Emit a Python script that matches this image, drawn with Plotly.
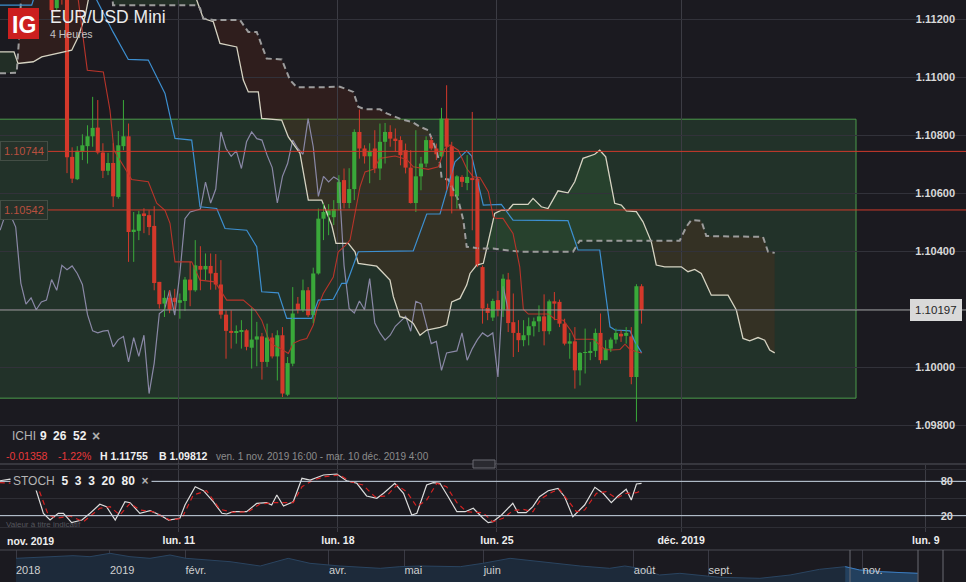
import numpy as np
import plotly.graph_objects as go

# ---- data (x = 4h bar index, 0 = first bar of the big drop) ----
bar_idx = list(range(-13, 113))
opens = [1.11540, 1.11560, 1.11700, 1.11650, 1.11580, 1.11500, 1.11470, 1.11400, 1.11420, 1.11350,
         1.11330, 1.11238, 1.11310, 1.11280, 1.10725, 1.10648, 1.10742, 1.10762, 1.10796, 1.10826,
         1.10740, 1.10677, 1.10704, 1.10587, 1.10762, 1.10796, 1.10466, 1.10470, 1.10530, 1.10524,
         1.10487, 1.10294, 1.10219, 1.10239, 1.10239, 1.10222, 1.10228, 1.10302, 1.10265, 1.10349,
         1.10337, 1.10349, 1.10325, 1.10285, 1.10181, 1.10125, 1.10118, 1.10122, 1.10127, 1.10067,
         1.10095, 1.10106, 1.10018, 1.10102, 1.10037, 1.10110, 1.09905, 1.10012, 1.10219, 1.10198,
         1.10265, 1.10179, 1.10323, 1.10512, 1.10524, 1.10517, 1.10566, 1.10645, 1.10566, 1.10614,
         1.10811, 1.10754, 1.10727, 1.10754, 1.10685, 1.10777, 1.10811, 1.10788, 1.10783, 1.10748,
         1.10688, 1.10566, 1.10658, 1.10702, 1.10783, 1.10754, 1.10727, 1.10857, 1.10762, 1.10589,
         1.10656, 1.10635, 1.10652, 1.10650, 1.10345, 1.10204, 1.10171, 1.10231, 1.10198, 1.10302,
         1.10155, 1.10118, 1.10093, 1.10110, 1.10141, 1.10158, 1.10175, 1.10124, 1.10227, 1.10225,
         1.10150, 1.10081, 1.10089, 1.09989, 1.10049, 1.10052, 1.10056, 1.10118, 1.10024, 1.10064,
         1.10095, 1.10115, 1.10108, 1.10106, 1.09966, 1.10279]
highs = [1.11600, 1.11755, 1.11720, 1.11680, 1.11600, 1.11540, 1.11490, 1.11450, 1.11430, 1.11380,
         1.11360, 1.11340, 1.11340, 1.11300, 1.10758, 1.10762, 1.10803, 1.10834, 1.10932, 1.10921,
         1.10772, 1.10739, 1.10772, 1.10814, 1.10921, 1.10840, 1.10535, 1.10539, 1.10548, 1.10541,
         1.10555, 1.10294, 1.10265, 1.10265, 1.10270, 1.10254, 1.10311, 1.10363, 1.10438, 1.10417,
         1.10392, 1.10392, 1.10390, 1.10369, 1.10196, 1.10196, 1.10144, 1.10162, 1.10131, 1.10204,
         1.10156, 1.10118, 1.10150, 1.10117, 1.10127, 1.10138, 1.10035, 1.10276, 1.10242, 1.10302,
         1.10276, 1.10343, 1.10547, 1.10564, 1.10562, 1.10576, 1.10662, 1.10685, 1.10686, 1.10820,
         1.10888, 1.10765, 1.10772, 1.10817, 1.10840, 1.10842, 1.10834, 1.10823, 1.10796, 1.10771,
         1.10748, 1.10817, 1.10725, 1.10796, 1.10794, 1.10771, 1.10894, 1.10972, 1.10777, 1.10662,
         1.10662, 1.10731, 1.10880, 1.10656, 1.10351, 1.10219, 1.10236, 1.10263, 1.10320, 1.10325,
         1.10254, 1.10162, 1.10162, 1.10171, 1.10171, 1.10213, 1.10251, 1.10233, 1.10259, 1.10233,
         1.10167, 1.10118, 1.10138, 1.10052, 1.10133, 1.10087, 1.10133, 1.10185, 1.10093, 1.10102,
         1.10133, 1.10127, 1.10138, 1.10138, 1.10286, 1.10286]
lows = [1.11490, 1.11540, 1.11620, 1.11560, 1.11480, 1.11440, 1.11380, 1.11350, 1.11330, 1.11290,
        1.11224, 1.11231, 1.11250, 1.10669, 1.10635, 1.10645, 1.10714, 1.10702, 1.10760, 1.10734,
        1.10652, 1.10662, 1.10552, 1.10581, 1.10748, 1.10363, 1.10363, 1.10438, 1.10462, 1.10455,
        1.10265, 1.10202, 1.10173, 1.10186, 1.10200, 1.10167, 1.10194, 1.10210, 1.10260, 1.10265,
        1.10300, 1.10267, 1.10267, 1.10167, 1.10029, 1.10064, 1.10081, 1.10064, 1.10058, 1.09995,
        1.10003, 1.09957, 1.10001, 1.10030, 1.09954, 1.09897, 1.09900, 1.10003, 1.10185, 1.10190,
        1.10173, 1.10151, 1.10319, 1.10438, 1.10455, 1.10490, 1.10541, 1.10547, 1.10548, 1.10576,
        1.10719, 1.10702, 1.10634, 1.10669, 1.10645, 1.10702, 1.10760, 1.10742, 1.10696, 1.10668,
        1.10564, 1.10535, 1.10610, 1.10690, 1.10748, 1.10714, 1.10725, 1.10610, 1.10530, 1.10547,
        1.10621, 1.10610, 1.10472, 1.10345, 1.10150, 1.10162, 1.10159, 1.10175, 1.10173, 1.10121,
        1.10035, 1.10052, 1.10072, 1.10075, 1.10106, 1.10121, 1.10075, 1.10113, 1.10162, 1.10138,
        1.10075, 1.10029, 1.09926, 1.09937, 1.09978, 1.10024, 1.10035, 1.10012, 1.10024, 1.10052,
        1.10081, 1.10087, 1.10081, 1.09941, 1.09812, 1.10150]
closes = [1.11560, 1.11700, 1.11650, 1.11580, 1.11500, 1.11470, 1.11400, 1.11420, 1.11350, 1.11330,
          1.11231, 1.11300, 1.11280, 1.10724, 1.10650, 1.10746, 1.10765, 1.10796, 1.10825, 1.10740,
          1.10677, 1.10704, 1.10589, 1.10765, 1.10796, 1.10466, 1.10474, 1.10527, 1.10524, 1.10483,
          1.10290, 1.10217, 1.10239, 1.10198, 1.10225, 1.10231, 1.10302, 1.10265, 1.10351, 1.10336,
          1.10349, 1.10323, 1.10285, 1.10181, 1.10125, 1.10118, 1.10124, 1.10127, 1.10070, 1.10095,
          1.10106, 1.10018, 1.10102, 1.10037, 1.10110, 1.09909, 1.10014, 1.10185, 1.10198, 1.10265,
          1.10179, 1.10323, 1.10512, 1.10535, 1.10541, 1.10545, 1.10638, 1.10566, 1.10614, 1.10811,
          1.10754, 1.10727, 1.10746, 1.10685, 1.10777, 1.10811, 1.10788, 1.10783, 1.10731, 1.10688,
          1.10566, 1.10658, 1.10702, 1.10783, 1.10754, 1.10734, 1.10857, 1.10760, 1.10589, 1.10658,
          1.10639, 1.10656, 1.10645, 1.10351, 1.10202, 1.10187, 1.10228, 1.10198, 1.10305, 1.10152,
          1.10118, 1.10093, 1.10110, 1.10141, 1.10158, 1.10175, 1.10124, 1.10227, 1.10219, 1.10150,
          1.10081, 1.10089, 1.09989, 1.10049, 1.10052, 1.10056, 1.10118, 1.10024, 1.10064, 1.10095,
          1.10118, 1.10106, 1.10118, 1.09966, 1.10279, 1.10197]

tenkan_x = [-13.06, 1.5, 2.20, 3.96, 7.08, 8.38, 9.16, 12.61, 15.85, 17.49, 19.10, 20.08, 21.05, 24.31,
            25.93, 28.85, 31.13, 34.37, 36.65, 37.95, 39.24, 40.21, 41.52, 43.14, 44.11, 45.42, 46.73,
            48.01, 48.67, 49.96, 51.91, 52.88, 54.19, 55.17, 57.12, 58.09, 59.71, 61.01, 63.94, 66.22,
            67.50, 70.43, 72.38, 73.68, 74.66, 76.28, 77.91, 79.20, 80.51, 82.13, 83.10, 83.68, 84.99,
            86.94, 88.25, 88.95, 89.92, 93.82, 95.13, 96.75, 98.38, 99.03, 102.59, 103.90, 104.87,
            106.18, 107.80, 108.77, 109.75, 111.05, 112.03]
tenkan_y = [1.11450, 1.11320, 1.11266, 1.11024, 1.11018, 1.10886, 1.10748, 1.10647, 1.10639, 1.10565,
            1.10541, 1.10496, 1.10363, 1.10363, 1.10300, 1.10294, 1.10231, 1.10231, 1.10197, 1.10162,
            1.10099, 1.10076, 1.10065, 1.10047, 1.10082, 1.10093, 1.10099, 1.10145, 1.10197, 1.10254,
            1.10311, 1.10398, 1.10418, 1.10438, 1.10622, 1.10673, 1.10682, 1.10720, 1.10728, 1.10716,
            1.10691, 1.10682, 1.10691, 1.10754, 1.10766, 1.10748, 1.10685, 1.10656, 1.10654, 1.10605,
            1.10518, 1.10513, 1.10513, 1.10461, 1.10346, 1.10200, 1.10183, 1.10183, 1.10165, 1.10162,
            1.10122, 1.10096, 1.10096, 1.10076, 1.10061, 1.10059, 1.10061, 1.10079, 1.10061, 1.10053,
            1.10049]

kijun_x = [-13.06, -6.88, -6.57, -5.5, 5.0, 5.79, 8.97, 11.95, 15.85, 19.10, 21.05, 24.31, 25.93, 29.18,
           30.80, 35.03, 36.98, 37.95, 41.19, 42.83, 47.70, 48.99, 51.91, 53.55, 54.52, 56.78, 67.50,
           70.12, 72.71, 75.63, 77.91, 78.89, 81.15, 84.66, 86.94, 97.66, 99.61, 103.84, 105.85,
           106.82, 109.75, 110.72, 112.03]
kijun_y = [1.11248, 1.11248, 1.11266, 1.11350, 1.11350, 1.11266, 1.11156, 1.11061, 1.11059, 1.10944,
           1.10789, 1.10783, 1.10553, 1.10547, 1.10478, 1.10472, 1.10415, 1.10260, 1.10256, 1.10168,
           1.10168, 1.10231, 1.10234, 1.10289, 1.10289, 1.10398, 1.10401, 1.10528, 1.10528, 1.10708,
           1.10746, 1.10728, 1.10559, 1.10561, 1.10507, 1.10505, 1.10404, 1.10404, 1.10139, 1.10128,
           1.10125, 1.10087, 1.10049]

span_a_x = [-13.06, -10.33, -9.55, -6.57, -4.93, -1.70, 0.92, 2.20, 3.51, 4.15, 6.43, 16.18, 23.98,
            25.28, 26.57, 28.52, 29.82, 33.08, 34.37, 35.34, 37.29, 37.95, 41.85, 43.14, 45.42, 47.04,
            49.65, 51.60, 52.44, 54.83, 56.14, 56.78, 60.37, 62.96, 63.61, 64.91, 66.22, 67.50, 68.81,
            70.12, 72.71, 74.02, 74.99, 76.61, 77.91, 78.56, 79.86, 81.15, 82.40, 83.37, 84.66, 85.96,
            86.94, 89.86, 90.84, 92.46, 93.76, 95.71, 97.66, 98.97, 100.58, 102.87, 103.84, 105.01,
            106.76, 108.05, 109.03, 110.98, 112.28, 113.90, 114.87, 116.51, 119.75, 121.05, 122.36,
            123.64, 125.59, 127.88, 128.85, 130.47, 131.77, 133.08, 134.70, 136.00, 136.98, 137.95]
span_a_y = [1.11087, 1.11087, 1.11047, 1.11053, 1.11070, 1.11082, 1.11093, 1.11139, 1.11208, 1.11266,
            1.11330, 1.11370, 1.11300, 1.11266, 1.11202, 1.11191, 1.11116, 1.11104, 1.10990, 1.10949,
            1.10949, 1.10858, 1.10852, 1.10794, 1.10737, 1.10576, 1.10576, 1.10490, 1.10427, 1.10427,
            1.10398, 1.10358, 1.10348, 1.10300, 1.10243, 1.10174, 1.10168, 1.10151, 1.10110, 1.10128,
            1.10137, 1.10145, 1.10225, 1.10237, 1.10283, 1.10323, 1.10352, 1.10358, 1.10461, 1.10530,
            1.10541, 1.10541, 1.10561, 1.10561, 1.10582, 1.10553, 1.10547, 1.10608, 1.10601, 1.10639,
            1.10720, 1.10734, 1.10748, 1.10725, 1.10565, 1.10559, 1.10539, 1.10536, 1.10501, 1.10432,
            1.10352, 1.10346, 1.10346, 1.10329, 1.10337, 1.10323, 1.10248, 1.10248, 1.10248, 1.10197,
            1.10099, 1.10091, 1.10102, 1.10093, 1.10059, 1.10049]

span_b_x = [-13.06, -9.81, -9.36, -8.97, -7.2, 8.4, 8.97, 25.28, 25.93, 26.57, 28.52, 33.72, 35.34,
            36.98, 38.93, 41.85, 43.47, 44.78, 49.32, 53.22, 55.81, 56.78, 58.09, 61.01, 62.32, 65.24,
            67.19, 68.81, 70.43, 71.74, 72.71, 73.04, 74.33, 76.28, 77.25, 77.91, 80.51, 83.04, 88.25,
            98.64, 99.94, 119.43, 120.72, 121.70, 123.64, 124.62, 135.67, 136.65, 137.95]
span_b_y = [1.11013, 1.11015, 1.11128, 1.11266, 1.11400, 1.11400, 1.11248, 1.11248, 1.11238, 1.11202,
            1.11197, 1.11197, 1.11156, 1.11156, 1.11064, 1.11061, 1.10990, 1.10965, 1.10965, 1.10967,
            1.10949, 1.10898, 1.10889, 1.10889, 1.10875, 1.10854, 1.10846, 1.10829, 1.10817, 1.10760,
            1.10702, 1.10651, 1.10647, 1.10576, 1.10507, 1.10415, 1.10409, 1.10409, 1.10398, 1.10398,
            1.10436, 1.10436, 1.10484, 1.10507, 1.10505, 1.10452, 1.10449, 1.10398, 1.10394]

chikou_shift = 26

stoch_k_x = [-13.1, -11.1, -6.6, -4.6, -3.3, -1.7, -0.7, 0.9, 2.9, 4.5, 6.4, 7.7, 9.4, 11.3, 12.3, 14.2,
             16.2, 18.1, 19.8, 22.0, 23.0, 25.0, 26.6, 28.5, 30.2, 31.1, 32.4, 35.0, 37.0, 38.9, 39.9,
             40.9, 42.2, 44.1, 45.8, 47.4, 50.0, 52.6, 54.5, 56.5, 58.4, 60.4, 61.7, 63.9, 65.6, 67.2,
             68.2, 70.1, 71.4, 72.7, 74.3, 76.0, 77.6, 79.2, 81.1, 82.1, 83.0, 84.7, 86.9, 87.9, 89.5,
             90.8, 92.1, 93.8, 95.7, 97.0, 98.6, 100.9, 102.9, 104.5, 106.1, 107.4, 109.0, 110.0,
             111.0, 112.0]
stoch_k = [81, 84, 81.1, 24.1, 12.4, 24.1, 24.1, 7.7, 12.4, 24.1, 39.9, 35.7, 12.4, 44.4, 42.7, 24.1,
           28.7, 21.2, 12.4, 15.4, 38.6, 70.6, 63.6, 44.4, 24.1, 22.9, 26.9, 26.9, 41.6, 42.7, 38.6,
           56.1, 36.9, 44.4, 85.3, 82.3, 91.1, 92.8, 81.1, 76.6, 54.4, 50.3, 59.1, 76.6, 59.1, 21.2,
           24.1, 73.6, 77.6, 76.6, 53.1, 26.9, 26.9, 32.9, 15.4, 7.7, 9.4, 21.2, 41.6, 25.2, 25.2,
           35.7, 53.1, 63.6, 67.8, 53.1, 18.2, 38.6, 69.6, 59.1, 42.7, 54.4, 66.1, 47.4, 75.3, 76.6]
stoch_d_x = [-13.1, -5.9, -3.65, -2.0, 0.6, 3.2, 6.4, 8.4, 10.3, 12.3, 14.2, 16.8, 20.1, 22.4, 24.6,
             27.2, 29.8, 32.4, 35.3, 37.6, 40.2, 42.2, 44.1, 45.8, 48.0, 50.3, 53.2, 55.2, 57.7, 60.0,
             62.3, 64.3, 66.2, 68.2, 70.1, 72.1, 74.0, 76.0, 77.9, 81.1, 83.0, 85.0, 86.9, 88.9, 90.8,
             92.5, 94.7, 96.0, 98.0, 99.3, 100.9, 103.2, 105.1, 107.1, 109.0, 111.0, 112.0]
stoch_d = [77.6, 75.3, 21.2, 15.4, 19.4, 9.4, 32.9, 35.7, 21.2, 41.6, 29.9, 26.9, 12.4, 15.4, 56.1,
           63.6, 31.1, 25.9, 26.9, 40.4, 42.7, 42.7, 42.7, 70.6, 82.3, 88.1, 91.1, 79.4, 73.6, 53.1,
           54.4, 73.6, 61.9, 35.7, 47.4, 76.6, 70.6, 42.7, 26.9, 25.0, 9.4, 15.4, 28.7, 31.1, 26.9,
           50.3, 61.9, 66.1, 41.6, 26.9, 29.9, 59.1, 61.9, 50.3, 59.1, 60.1, 63.6]

week_ticks = [21.8, 52.8, 83.8, 119.7, 167.4]
week_labels = ["lun. 11", "lun. 18", "lun. 25", "déc. 2019", "lun. 9"]

box_x = [-14.0, 153.8]
box_price = [1.09893, 1.10855]
level_lines = [1.10744, 1.10542]
last_price = 1.10197

# navigator (x in months, 0 = janv. 2019)
nav_month = [-1.245, -0.795, -0.49, -0.265, 0.0, 0.265, 0.53, 0.795, 1.007, 1.59, 1.99, 2.36, 2.65,
             3.05, 3.58, 3.84, 4.11, 4.64, 4.94, 5.30, 5.70, 6.23, 6.62, 6.82, 7.02, 7.28, 7.55, 7.81,
             8.08, 8.61, 9.01, 9.40, 9.74, 9.93, 10.20, 10.46, 10.70]
nav_value = [1.1383, 1.1419, 1.1441, 1.1419, 1.1493, 1.1419, 1.1383, 1.1456, 1.1383, 1.1309, 1.1214,
             1.1383, 1.1273, 1.1214, 1.1163, 1.1199, 1.1214, 1.1199, 1.1273, 1.1383, 1.1309, 1.1214,
             1.1163, 1.1214, 1.1163, 1.1016, 1.1053, 1.1016, 1.0965, 1.0943, 1.1016, 1.1141, 1.1199,
             1.1126, 1.1089, 1.1067, 1.1053]
nav_ticks = [-1.245, 0.0, 1.0, 2.9, 3.9, 4.95, 6.94, 7.93, 9.97]
nav_labels = ["2018", "2019", "févr.", "avr.", "mai", "juin", "août", "sept.", "nov."]

FONT = "Liberation Sans, Arial, sans-serif"
BG = "#1b1a20"
UP = "#3aa93a"
DOWN = "#d4392b"
W, H = 966, 582


def px(x, y):
    return x / W, 1 - y / H


def cloud_paths(ax, ay, bx, by, step=0.1):
    grid = np.arange(max(ax[0], bx[0]), min(ax[-1], bx[-1]) + 1e-9, step)
    a = np.interp(grid, ax, ay)
    b = np.interp(grid, bx, by)
    up = a >= b
    out = []
    start = 0
    for k in range(1, len(grid) + 1):
        if k == len(grid) or up[k] != up[start]:
            end = min(k + 1, len(grid))
            xs = grid[start:end]
            pts = list(zip(xs, a[start:end])) + list(zip(xs[::-1], b[start:end][::-1]))
            path = "M " + " L ".join(f"{x:.3f},{y:.6f}" for x, y in pts) + " Z"
            out.append((bool(up[start]), path))
            start = k
    return out


fig = go.Figure()

# chikou / tenkan / kijun / senkou lines
fig.add_trace(go.Scatter(x=[i - chikou_shift for i in bar_idx], y=closes, mode="lines",
                         line=dict(color="#8a88a6", width=1.2)))
fig.add_trace(go.Scatter(x=span_a_x, y=span_a_y, mode="lines", line=dict(color="#d6d3c2", width=1.3)))
fig.add_trace(go.Scatter(x=span_b_x, y=span_b_y, mode="lines",
                         line=dict(color="#9c9c9c", width=2, dash="6px,4px")))
fig.add_trace(go.Scatter(x=kijun_x, y=kijun_y, mode="lines", line=dict(color="#3d8fd0", width=1.2)))
fig.add_trace(go.Scatter(x=tenkan_x, y=tenkan_y, mode="lines", line=dict(color="#b8342a", width=1.1)))

# candles: bodies as bars, wicks as lines
for is_up, col in ((True, UP), (False, DOWN)):
    sel = [k for k in range(len(bar_idx)) if (closes[k] >= opens[k]) == is_up]
    xs = [bar_idx[k] for k in sel]
    base = [min(opens[k], closes[k]) for k in sel]
    hgt = [max(abs(closes[k] - opens[k]), 0.00002) for k in sel]
    fig.add_trace(go.Bar(x=xs, y=hgt, base=base, width=0.8, marker=dict(color=col, line=dict(width=0))))
    wx, wy = [], []
    for k in sel:
        wx += [bar_idx[k], bar_idx[k], None]
        wy += [lows[k], highs[k], None]
    fig.add_trace(go.Scatter(x=wx, y=wy, mode="lines", line=dict(color=col, width=1)))

# stochastic
fig.add_trace(go.Scatter(x=stoch_k_x, y=stoch_k, mode="lines", xaxis="x2", yaxis="y2",
                         line=dict(color="#dcdcdc", width=1.2)))
fig.add_trace(go.Scatter(x=stoch_d_x, y=stoch_d, mode="lines", xaxis="x2", yaxis="y2",
                         line=dict(color="#d42222", width=1.2, dash="5px,4px")))

# navigator
fig.add_trace(go.Scatter(x=nav_month, y=nav_value, mode="lines", xaxis="x3", yaxis="y3",
                         fill="tozeroy", fillcolor="#1d2a3a", line=dict(color="#2a4460", width=1)))
win = [k for k, m in enumerate(nav_month) if m >= 9.74]
fig.add_trace(go.Scatter(x=[nav_month[k] for k in win], y=[nav_value[k] for k in win], mode="lines",
                         xaxis="x3", yaxis="y3", fill="tozeroy", fillcolor="#23405e",
                         line=dict(color="#3b7cc0", width=1)))

shapes = [dict(type="rect", xref="x", yref="y", x0=box_x[0], x1=box_x[1], y0=box_price[0],
               y1=box_price[1], fillcolor="rgba(60,130,70,0.24)", line=dict(color="#4b9b4b", width=1),
               layer="below")]
for bull, path in cloud_paths(span_a_x, span_a_y, span_b_x, span_b_y):
    shapes.append(dict(type="path", xref="x", yref="y", path=path, layer="below", line=dict(width=0),
                       fillcolor="rgba(60,120,60,0.22)" if bull else "rgba(120,45,20,0.22)"))
for lv in level_lines:
    shapes.append(dict(type="line", xref="paper", yref="y", x0=0, x1=1, y0=lv, y1=lv,
                       line=dict(color="#cf3a2b", width=1)))
shapes.append(dict(type="line", xref="paper", yref="y", x0=0, x1=1, y0=last_price, y1=last_price,
                   line=dict(color="#9a9a9a", width=1)))
for lv in (20, 80):
    shapes.append(dict(type="line", xref="paper", yref="y2", x0=0, x1=1, y0=lv, y1=lv,
                       line=dict(color="#c9d6e4", width=1)))
# separators, logo, handles
shapes.append(dict(type="line", xref="paper", yref="paper", x0=0, x1=1, y0=1 - 464 / H, y1=1 - 464 / H,
                   line=dict(color="#55555d", width=1)))
shapes.append(dict(type="line", xref="paper", yref="paper", x0=0, x1=1, y0=1 - 550 / H, y1=1 - 550 / H,
                   line=dict(color="#4a4a52", width=1)))
shapes.append(dict(type="rect", xref="paper", yref="paper", x0=473 / W, x1=495 / W, y0=1 - 468 / H,
                   y1=1 - 460 / H, fillcolor="#2a2a30", line=dict(color="#6a6a72", width=1)))
shapes.append(dict(type="rect", xref="paper", yref="paper", x0=8 / W, x1=39 / W, y0=1 - 39 / H,
                   y1=1 - 8 / H, fillcolor="#cc1f1f", line=dict(width=0)))
for xp in (850, 918, 943):
    shapes.append(dict(type="line", xref="paper", yref="paper", x0=xp / W, x1=xp / W, y0=0,
                       y1=1 - 550 / H, line=dict(color="#6a6a72", width=1)))

ann = []


def label(text, x, y, size=10.5, color="#f0f0f0", anchor="left", **kw):
    xp, yp = px(x, y)
    ann.append(dict(text=text, x=xp, y=yp, xref="paper", yref="paper", xanchor=anchor,
                    yanchor="middle", showarrow=False, font=dict(size=size, color=color, family=FONT),
                    **kw))


label("<b>IG</b>", 23.5, 25, size=23, color="#ffffff", anchor="center")
label("EUR/USD Mini", 48, 17, size=17.5, color="#ececec")
label("4 Heures", 48, 34, size=10.5, color="#c4c4c4")
label("ICHI", 10, 436, size=12, color="#b4b4b4")
label("<b>9</b>", 38, 436, size=12)
label("<b>26</b>", 51, 436, size=12)
label("<b>52</b>", 71, 436, size=12)
label("<b>×</b>", 90, 436, size=14, color="#b0b0b0")
label("-0.01358", 4, 456, color="#e8393a")
label("-1.22%", 56, 456, color="#e8393a")
label("<b>H 1.11755</b>", 98, 456)
label("<b>B 1.09812</b>", 157, 456)
label("ven. 1 nov. 2019 16:00 - mar. 10 déc. 2019 4:00", 214, 456, size=10, color="#8c8c8c")
sp = "\u00a0"
label("<span style='color:#b4b4b4'>STOCH</span>" + sp * 2 + "<b>" + (sp * 2).join(["5", "3", "3", "20", "80"])
      + "</b>" + sp * 2 + "<b><span style='color:#b0b0b0'>×</span></b>",
      10, 481, size=12, bgcolor=BG, borderpad=2)
label("Valeur à titre indicatif", 4, 524, size=8, color="#55555c")
label("<b>nov. 2019</b>", 5, 541, size=10.5, color="#eeeeee")
for lv in level_lines:
    ann.append(dict(text=f"{lv:.5f}", x=0, y=lv, xref="paper", yref="y", xanchor="left", yanchor="middle",
                    showarrow=False, font=dict(size=11, color="#b9503f", family=FONT),
                    bgcolor="#26322a", bordercolor="#434e45", borderwidth=1, borderpad=3))
ann.append(dict(text=f"{last_price:.5f}", x=1, y=last_price, xref="paper", yref="y", xanchor="right",
                yanchor="middle", xshift=-4, showarrow=False, font=dict(size=11.5, color="#262626", family=FONT),
                bgcolor="#d9d9d9", bordercolor="#d9d9d9", borderwidth=1, borderpad=4))

price_ticks = [1.098, 1.100, 1.102, 1.104, 1.106, 1.108, 1.110, 1.112]
xr = [-13.06, 175.24]

fig.update_layout(
    width=W, height=H, margin=dict(l=0, r=0, t=0, b=0),
    paper_bgcolor=BG, plot_bgcolor=BG, showlegend=False, barmode="overlay",
    font=dict(family=FONT), hovermode=False,
    shapes=shapes, annotations=ann,
    xaxis=dict(domain=[0, 1], anchor="y", range=xr, tickvals=week_ticks, showticklabels=False,
               gridcolor="#3c3c44", zeroline=False, showline=False, ticks=""),
    yaxis=dict(domain=[1 - 464 / H, 1], anchor="x", range=[1.09666, 1.11266], side="right",
               ticklabelposition="inside", tickvals=price_ticks, tickformat=".5f",
               tickfont=dict(size=11, color="#d8d8d8", weight="bold"), ticklabelstandoff=8,
               gridcolor="#32323a", zeroline=False, showline=False, ticks=""),
    xaxis2=dict(domain=[0, 1], anchor="y2", range=xr, tickvals=week_ticks, ticktext=week_labels,
                tickfont=dict(size=10.5, color="#eeeeee", weight="bold"), gridcolor="#3c3c44",
                zeroline=False, showline=False, ticks=""),
    yaxis2=dict(domain=[1 - 532 / H, 1 - 465 / H], anchor="x2", range=[-8.57, 108.57], side="right",
                ticklabelposition="inside", tickvals=[0, 20, 50, 80, 100],
                ticktext=["", "20", "", "80", ""], ticklabelstandoff=10,
                tickfont=dict(size=11, color="#d8d8d8", weight="bold"), gridcolor="#2e2e35",
                zeroline=False, showline=False, ticks=""),
    xaxis3=dict(domain=[0, 1], anchor="y3", range=[-1.457, 11.34], tickvals=nav_ticks, ticktext=nav_labels,
                ticklabelposition="inside right", tickfont=dict(size=11, color="#cfcfcf"),
                gridcolor="#3a3a44", zeroline=False, showline=False, ticks=""),
    yaxis3=dict(domain=[0, 1 - 550 / H], anchor="x3", range=[1.0862, 1.1566], showticklabels=False,
                showgrid=False, zeroline=False),
)

fig.write_html("out.html", config={"displayModeBar": False},
               post_script="document.body.style.margin='0';document.body.style.overflow='hidden';")
